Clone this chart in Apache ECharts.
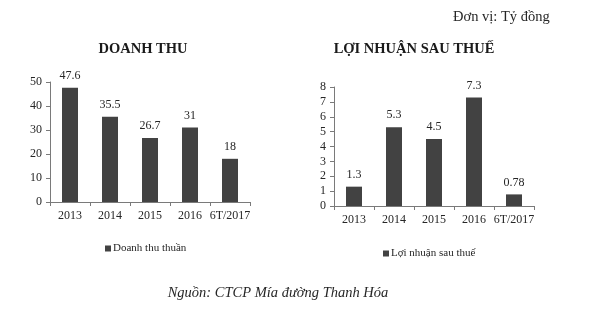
<!DOCTYPE html>
<html><head><meta charset="utf-8">
<script src="https://cdn.jsdelivr.net/npm/echarts@6/dist/echarts.min.js"></script>
<style>html,body{margin:0;padding:0;background:#fff}#c{width:606px;height:333px}</style>
</head><body><div id="c"></div>
<script>
const categories = ['2013','2014','2015','2016','6T/2017'];
const revenue = [47.6, 35.5, 26.7, 31, 18];
const profit = [1.3, 5.3, 4.5, 7.3, 0.78];
const revenueTicks = [0, 10, 20, 30, 40, 50];
const profitTicks = [0, 1, 2, 3, 4, 5, 6, 7, 8];

const FONT = '"Liberation Serif", "DejaVu Serif", serif';
const TXT = '#262626';
const BAR = '#424242';
const AX = '#7a7a7a';

function xAxis(i){
  return {gridIndex:i, type:'category', data:categories,
    axisLine:{lineStyle:{color:AX}}, axisTick:{show:true, length:4, lineStyle:{color:AX}, alignWithLabel:false},
    axisLabel:{color:TXT, fontFamily:FONT, fontSize:12, margin:8, interval:0}};
}
function yAxis(i, ticks){
  return {gridIndex:i, type:'value', min:ticks[0], max:ticks[ticks.length-1], interval:ticks[1]-ticks[0],
    axisLine:{show:true, lineStyle:{color:AX}}, axisTick:{show:true, length:4, lineStyle:{color:AX}},
    splitLine:{show:false},
    axisLabel:{color:TXT, fontFamily:FONT, fontSize:12, margin:8}};
}
const chart = echarts.init(document.getElementById('c'));
chart.setOption({
  animation:false,
  backgroundColor:'#fff',
  title:[
    {text:'DOANH THU', left:138, top:37, textAlign:'center', textStyle:{fontFamily:FONT, fontSize:14.5, fontWeight:'bold', color:'#1a1a1a'}},
    {text:'LỢI NHUẬN SAU THUẾ', left:409, top:37, textAlign:'center', textStyle:{fontFamily:FONT, fontSize:14.5, fontWeight:'bold', color:'#1a1a1a'}},
    {text:'Đơn vị: Tỷ đồng', left:448, top:5, textStyle:{fontFamily:FONT, fontSize:14.5, fontWeight:'normal', color:TXT}},
    {text:'Nguồn: CTCP Mía đường Thanh Hóa', left:273, top:281, textAlign:'center', textStyle:{fontFamily:FONT, fontSize:14.5, fontStyle:'italic', fontWeight:'normal', color:TXT}}
  ],
  legend:[
    {data:['Doanh thu thuần'], left:100, top:238, icon:'rect', itemWidth:6, itemHeight:6, itemGap:5,
      textStyle:{fontFamily:FONT, fontSize:11, color:TXT, padding:[0,0,0,-3]}},
    {data:['Lợi nhuận sau thuế'], left:378, top:243, icon:'rect', itemWidth:6, itemHeight:6, itemGap:5,
      textStyle:{fontFamily:FONT, fontSize:11, color:TXT, padding:[0,0,0,-3]}}
  ],
  grid:[
    {left:50, top:82, width:200, height:120},
    {left:334, top:87, width:200, height:119}
  ],
  xAxis:[xAxis(0), xAxis(1)],
  yAxis:[yAxis(0, revenueTicks), yAxis(1, profitTicks)],
  series:[
    {name:'Doanh thu thuần', type:'bar', xAxisIndex:0, yAxisIndex:0, data:revenue, barWidth:16,
      itemStyle:{color:BAR}, label:{show:true, position:'top', distance:6, color:TXT, fontFamily:FONT, fontSize:12}},
    {name:'Lợi nhuận sau thuế', type:'bar', xAxisIndex:1, yAxisIndex:1, data:profit, barWidth:16,
      itemStyle:{color:BAR}, label:{show:true, position:'top', distance:6, color:TXT, fontFamily:FONT, fontSize:12}}
  ]
});
</script></body></html>
